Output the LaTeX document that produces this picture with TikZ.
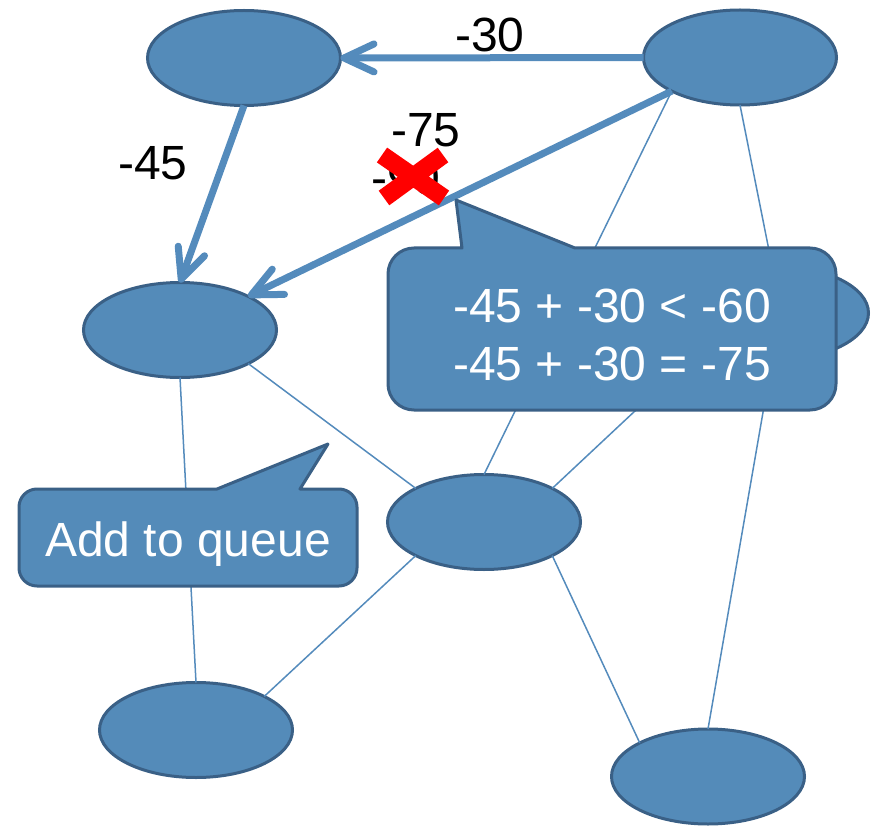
\documentclass[tikz,border=0pt]{standalone}
\usepackage{fontspec}
\setmainfont{Liberation Sans}
\usetikzlibrary{arrows.meta,shapes.geometric}

\definecolor{nodefill}{RGB}{84,139,185}
\definecolor{nodeline}{RGB}{58,96,134}
\definecolor{edgeblue}{RGB}{84,139,188}
\definecolor{crossred}{RGB}{255,0,0}

\begin{document}
\begin{tikzpicture}[x=1pt,y=-1pt,
  vertex/.style={ellipse,fill=nodefill,draw=nodeline,line width=3pt,
    minimum width=193pt,minimum height=95pt,inner sep=0pt,outer sep=0pt},
  link/.style={draw=edgeblue,line width=1.5pt},
  heavy/.style={draw=edgeblue,line width=7pt,
    -{Straight Barb[length=30pt,width=28pt,round]}},
  weight/.style={font=\fontsize{48}{57.6}\selectfont,anchor=base,inner sep=0pt},
  bubble/.style={fill=nodefill,draw=nodeline,line width=3pt,line join=round},
  bubbletext/.style={font=\fontsize{48}{57.6}\selectfont,text=white,anchor=base,inner sep=0pt},
]
\useasboundingbox (0,0) rectangle (875,826);

% vertices
\node[vertex] (A) at (244,58) {};
\node[vertex] (B) at (740,57.5) {};
\node[vertex] (C) at (180,330) {};
\node[vertex] (D) at (772,313) {};
\node[vertex] (E) at (484,522) {};
\node[vertex] (F) at (196,730) {};
\node[vertex] (G) at (708,776.5) {};

% plain edges
\draw[link] (B.south west) -- (E.north);
\draw[link] (B.south) -- (D.north);
\draw[link] (C.south east) -- (E.north west);
\draw[link] (C.south) -- (F.north);
\draw[link] (E.south west) -- (F.north east);
\draw[link] (E.south east) -- (G.north west);
\draw[link] (D.south) -- (G.north);
\draw[link] (D.south west) -- (E.north east);

% relaxed edges
\draw[heavy] (B.west) -- (A.east);
\draw[heavy] (A.south) -- (C.north);
\draw[heavy] (B.south west) -- (C.north east);

% edge weights
\node[weight] (w1) at (490,52) {-30};
\node[weight] (w2) at (153,180) {-45};
\node[weight] (w3) at (426,147) {-75};
\node[weight] (w4) at (406,195) {-90};

% struck-out old distance
\draw[crossred,line width=18pt] (382,155) -- (444,198) (443,155) -- (384,198);

% callout with the comparison
\draw[bubble] (414,248) -- (462,248) -- (456,200) -- (575,248) -- (810,248)
  arc[start angle=-90,end angle=0,radius=26] -- (836,384)
  arc[start angle=0,end angle=90,radius=26] -- (414,410)
  arc[start angle=90,end angle=180,radius=26] -- (388,274)
  arc[start angle=180,end angle=270,radius=26] -- cycle;
\node[bubbletext] (t1) at (612,322) {-45 + -30 < -60};
\node[bubbletext] (t2) at (612,380) {-45 + -30 = -75};

% callout for the queue
\draw[bubble] (37,489) -- (217,489) -- (328,444) -- (300,489) -- (339,489)
  arc[start angle=-90,end angle=0,radius=18] -- (357,568)
  arc[start angle=0,end angle=90,radius=18] -- (37,586)
  arc[start angle=90,end angle=180,radius=18] -- (19,507)
  arc[start angle=180,end angle=270,radius=18] -- cycle;
\node[bubbletext] (t3) at (188,556) {Add to queue};
\end{tikzpicture}
\end{document}
